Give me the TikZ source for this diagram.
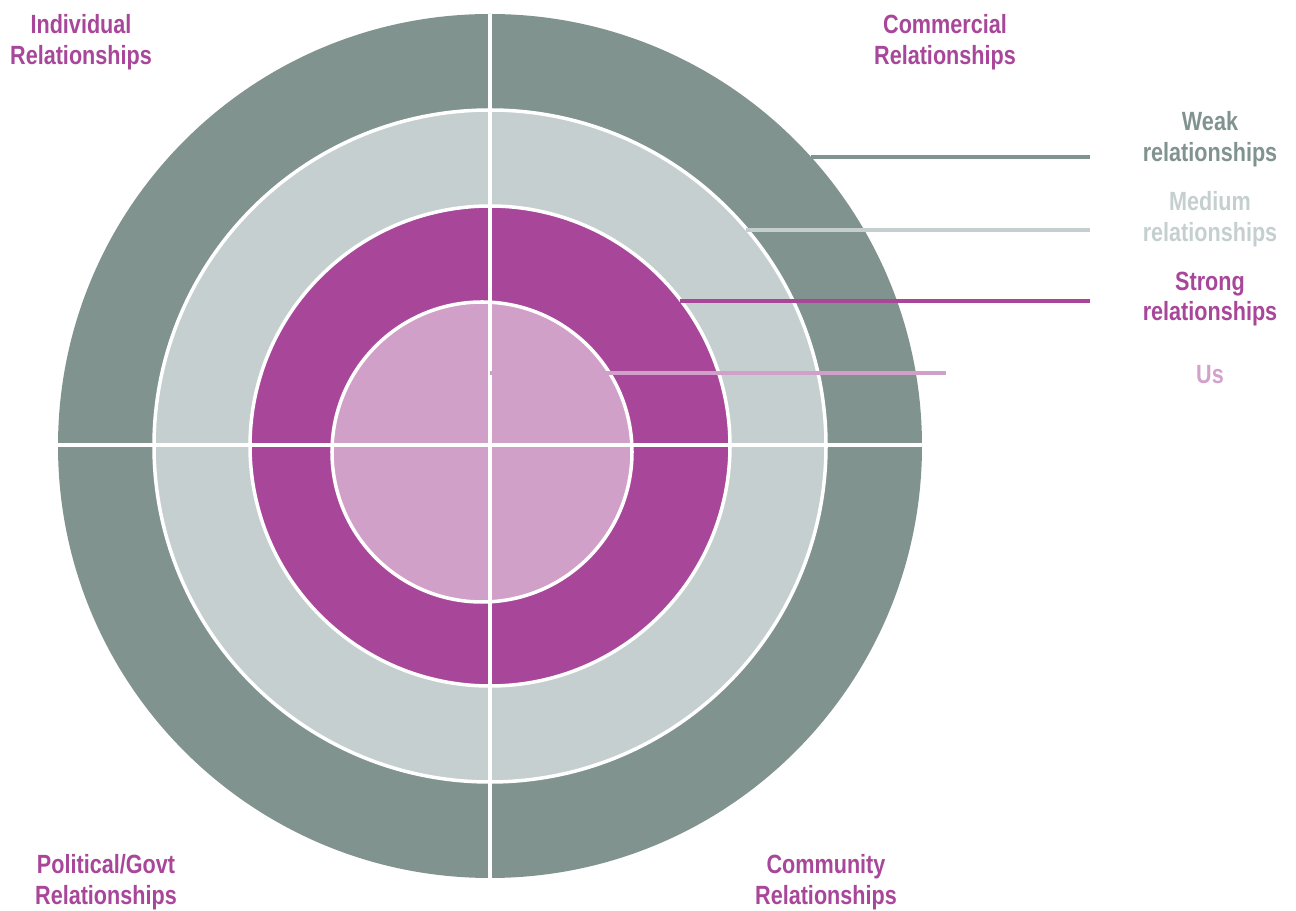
\documentclass[tikz,border=0pt]{standalone}
\usepackage{fontspec}
\setmainfont{Liberation Sans}[FakeStretch=0.82]
\usetikzlibrary{positioning, calc}
\usepackage{xcolor}

\definecolor{weakc}{HTML}{80938F}
\definecolor{mediumc}{HTML}{C5CFCF}
\definecolor{strongc}{HTML}{A8479A}
\definecolor{usc}{HTML}{D0A0C8}
\definecolor{ustext}{HTML}{D3A2CB}

\begin{document}
\begin{tikzpicture}[
    x=0.02cm, y=-0.02cm,
    ring/.style={draw=white, line width=2pt},
    cross/.style={draw=white, line width=2pt},
    lead/.style={line width=2pt},
    label/.style={font=\bfseries\fontsize{15}{17.6}\selectfont, align=center, inner sep=0pt}
]
\useasboundingbox (0,0) rectangle (1296,911);

% rings, outside in
\coordinate (c) at (490,446);
\fill[weakc] (c) circle[radius=432];
\filldraw[ring, fill=mediumc] (c) circle[radius=336];
\filldraw[ring, fill=strongc] (c) circle[radius=240];
\filldraw[ring, fill=usc] (482,452) circle[radius=150];

% quadrant split
\coordinate (top) at (490,14);
\coordinate (bot) at (490,878);
\coordinate (lft) at (58,445);
\coordinate (rgt) at (922,445);
\draw[cross] (top) -- (bot);
\draw[cross] (lft) -- (rgt);

% quadrant labels
\node[label, text=strongc] (individual) at (81,42) {Individual\\Relationships};
\node[label, text=strongc] (commercial) at (945,42) {Commercial\\Relationships};
\node[label, text=strongc] (political) at (106,882) {Political/Govt\\Relationships};
\node[label, text=strongc] (community) at (826,882) {Community\\Relationships};

% legend
\node[label, text=weakc] (weak) at (1210,139) {Weak\\relationships};
\node[label, text=mediumc] (medium) at (1210,219) {Medium\\relationships};
\node[label, text=strongc] (strong) at (1210,299) {Strong\\relationships};
\node[label, text=ustext] (us) at (1210,375) {Us};

% leader lines
\coordinate (weak-in) at (811,157);
\coordinate (weak-out) at (1090,157);
\coordinate (medium-in) at (746,230);
\coordinate (medium-out) at (1090,230);
\coordinate (strong-in) at (680,301);
\coordinate (strong-out) at (1090,301);
\coordinate (us-in) at (490,373);
\coordinate (us-out) at (946,373);
\draw[lead, weakc] (weak-in) -- (weak-out);
\draw[lead, mediumc] (medium-in) -- (medium-out);
\draw[lead, strongc] (strong-in) -- (strong-out);
\draw[lead, usc] (us-in) -- (us-out);

\end{tikzpicture}
\end{document}
